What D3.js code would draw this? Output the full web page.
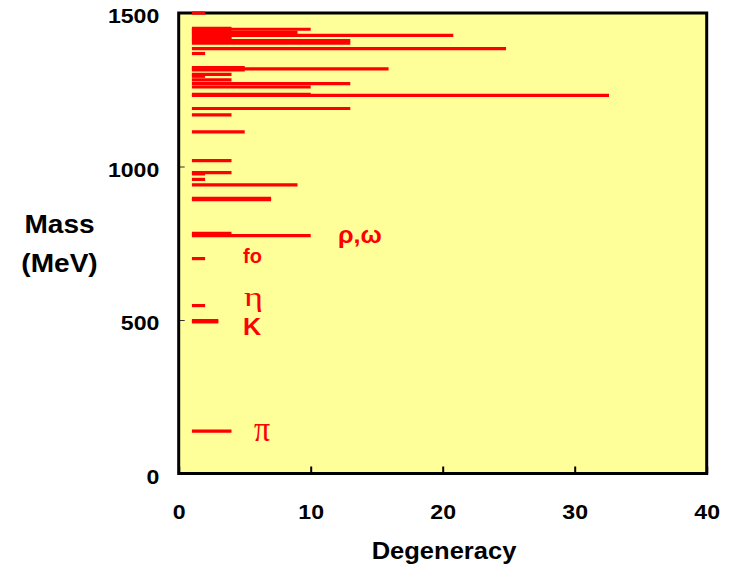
<!DOCTYPE html>
<html>
<head>
<meta charset="utf-8">
<script src="https://cdn.jsdelivr.net/npm/d3@7"></script>
<style>
  html, body { margin: 0; padding: 0; background: #ffffff; }
  svg { display: block; }
</style>
</head>
<body>
<svg id="chart" width="732" height="568"></svg>
<script>
// Meson and baryon states: mass (MeV) and number of degenerate states.
// Each state is drawn as a bar starting at 1 whose length is its degeneracy.
const masses = [
  1500, 1450, 1447, 1443, 1437, 1433, 1427, 1420, 1415, 1410, 1402, 1384, 1368,
  1322, 1318, 1315, 1300, 1294, 1282, 1270, 1259, 1235, 1232, 1189, 1168, 1113,
  1019, 980, 976, 958, 940, 896, 892, 782, 775, 700, 547, 498, 494, 138
];
const degeneracies = [
  1, 3, 9, 3, 8, 3, 19.8, 3, 3, 12, 12, 23.8, 1,
  4, 14.9, 4, 3, 1, 3, 12, 9, 9, 31.6, 12, 3, 4,
  3, 3, 1, 1, 8, 6, 6, 3, 9, 1, 1, 2, 2, 3
];
const xTickValues = [0, 10, 20, 30, 40];
const yTickValues = [0, 500, 1000, 1500];

// Particle names placed beside their bars
const particleNames = ["ρ,ω", "f", "η", "K", "π"];

const RED = "#ff0000";
const SANS = "'Liberation Sans', Arial, sans-serif";
const SERIF = "'Liberation Serif', 'Times New Roman', serif";

const svg = d3.select("#chart");

const x = d3.scaleLinear().domain([0, 40]).range([178.7, 706.7]);
const y = d3.scaleLinear().domain([0, 1500]).range([473.5, 13]);

// plot background
svg.append("rect")
  .attr("x", x(0)).attr("y", y(1500))
  .attr("width", x(40) - x(0)).attr("height", y(0) - y(1500))
  .attr("fill", "#ffff99");

// y axis: inward ticks, labels to the left
const yAxis = svg.append("g")
  .attr("transform", `translate(${x(0)},0)`)
  .call(d3.axisLeft(y).tickValues(yTickValues).tickSize(-6).tickPadding(0).tickFormat(d3.format("d")));
yAxis.select(".domain").remove();
yAxis.selectAll(".tick line").attr("stroke", "#333").attr("stroke-width", 1);
yAxis.selectAll(".tick text")
  .attr("x", -19.4 / 1.1)
  .attr("dy", "0.46em")
  .attr("transform", "scale(1.1,1)")
  .attr("fill", "#000")
  .style("font-family", SANS).style("font-weight", "bold").style("font-size", "21px");

// x axis: inward ticks, labels below
const xAxis = svg.append("g")
  .attr("transform", `translate(0,${y(0)})`)
  .call(d3.axisBottom(x).tickValues(xTickValues).tickSize(-7).tickPadding(31).tickFormat(d3.format("d")));
xAxis.select(".domain").remove();
xAxis.selectAll(".tick line").attr("stroke", "#000").attr("stroke-width", 2);
xAxis.selectAll(".tick text")
  .attr("transform", "scale(1.1,1)")
  .attr("fill", "#000")
  .style("font-family", SANS).style("font-weight", "bold").style("font-size", "21px");

// plot frame
svg.append("rect")
  .attr("x", x(0)).attr("y", y(1500))
  .attr("width", x(40) - x(0)).attr("height", y(0) - y(1500))
  .attr("fill", "none").attr("stroke", "#000").attr("stroke-width", 3);

// degeneracy bars
const states = masses.map((m, i) => ({ mass: m, deg: degeneracies[i] }));
svg.append("g").selectAll("line")
  .data(states)
  .join("line")
  .attr("x1", x(1))
  .attr("x2", d => x(1 + d.deg))
  .attr("y1", d => y(d.mass))
  .attr("y2", d => y(d.mass))
  .attr("stroke", RED)
  .attr("stroke-width", 3.2)
  .attr("stroke-linecap", "butt");

// particle labels
const labels = svg.append("g").attr("fill", RED);
labels.append("text")
  .attr("transform", "translate(338,243) scale(1.05,1)")
  .style("font-family", SANS).style("font-weight", "bold").style("font-size", "24px")
  .text(particleNames[0]);
const f0 = labels.append("text")
  .attr("transform", "translate(243,263)")
  .style("font-family", SANS).style("font-weight", "bold").style("font-size", "20px")
  .text(particleNames[1]);
f0.append("tspan").text("o");
labels.append("text")
  .attr("transform", "translate(244,306) scale(1.3,1)")
  .style("font-family", SERIF).style("font-size", "28px")
  .text(particleNames[2]);
labels.append("text")
  .attr("transform", "translate(243,335) scale(1.05,1)")
  .style("font-family", SANS).style("font-weight", "bold").style("font-size", "24px")
  .text(particleNames[3]);
labels.append("text")
  .attr("transform", "translate(254,441) scale(1.0,1.15)")
  .style("font-family", SERIF).style("font-size", "32px")
  .text(particleNames[4]);

// axis titles
const titles = svg.append("g").attr("fill", "#000")
  .style("font-family", SANS).style("font-weight", "bold").attr("text-anchor", "middle");
titles.append("text")
  .attr("transform", "translate(59.5,233.3) scale(1.1,1)")
  .style("font-size", "25.5px").text("Mass");
titles.append("text")
  .attr("transform", "translate(59.5,271.7) scale(1.1,1)")
  .style("font-size", "25.5px").text("(MeV)");
titles.append("text")
  .attr("transform", "translate(444,559) scale(1.11,1)")
  .style("font-size", "23px").text("Degeneracy");
</script>
</body>
</html>
